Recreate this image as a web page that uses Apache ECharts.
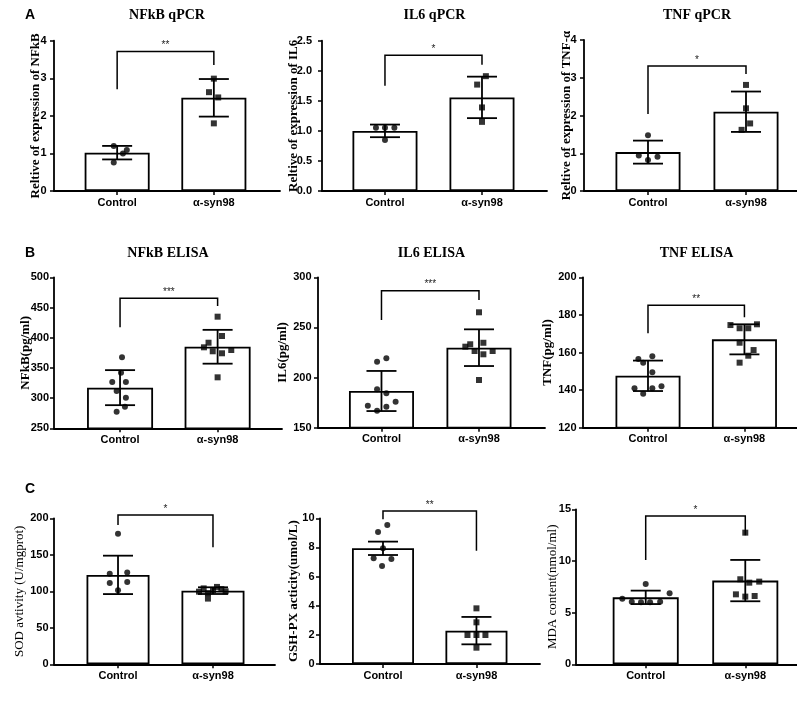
<!DOCTYPE html>
<html><head><meta charset="utf-8">
<script src="https://cdn.jsdelivr.net/npm/echarts@6/dist/echarts.min.js"></script>
<style>html,body{margin:0;padding:0;background:#fff}#c{width:797px;height:707px}</style>
</head><body><div id="c"></div>
<script>
// ---------- DATA ----------
const categories = ['Control', 'α-syn98'];
const panelLetters = ['A', 'B', 'C'];
const panelTitles = ['NFkB qPCR', 'IL6 qPCR', 'TNF qPCR', 'NFkB ELISA', 'IL6 ELISA', 'TNF ELISA', '', '', ''];
const yAxisNames = ['Reltive of expression of NFkB', 'Reltive of expression of IL6', 'Reltive of expression of TNF-α',
  'NFkB(pg/ml)', 'IL6(pg/ml)', 'TNF(pg/ml)', 'SOD avtivity (U/mgprot)', 'GSH-PX acticity(umol/L)', 'MDA content(nmol/ml)'];
const yMin = [0, 0, 0, 250, 150, 120, 0, 0, 0];
const yMax = [4, 2.5, 4, 500, 300, 200, 200, 10, 15];
const yStep = [1, 0.5, 1, 50, 50, 20, 50, 2, 5];
const yDecimals = [0, 1, 0, 0, 0, 0, 0, 0, 0];
const meanControl = [1.02, 1.00, 1.03, 317.3, 186.6, 147.6, 122.5, 7.94, 6.48];
const sdControl = [0.18, 0.105, 0.305, 29, 20, 8.1, 26.3, 0.46, 0.65];
const meanSyn = [2.48, 1.557, 2.10, 385, 229.8, 167, 100.9, 2.29, 8.10];
const sdSyn = [0.50, 0.345, 0.535, 28, 18.3, 8, 4.6, 0.94, 2.0];
const pointsControl = [
  [1.20, 1.00, 1.09, 0.76],
  [1.05, 1.05, 1.05, 0.85],
  [1.48, 0.94, 0.82, 0.91],
  [367.5, 342, 326.7, 326.7, 311.8, 300.7, 285.8, 277.5],
  [215.8, 219.2, 188.3, 184.3, 171.9, 166.9, 170.9, 175.9],
  [156.5, 154.5, 158, 149.5, 141, 138, 141, 142],
  [179, 124.2, 125.6, 111.4, 112.8, 101.4],
  [9.54, 9.06, 7.94, 7.25, 7.21, 6.73],
  [7.77, 6.35, 6.06, 6.0, 6.0, 6.06, 6.87]
];
const jitterControl = [
  [-0.035, 0.06, 0.10, -0.035],
  [-0.093, 0, 0.097, 0],
  [0, -0.094, 0, 0.097],
  [0.02, 0.01, -0.08, 0.06, -0.035, 0.06, 0.05, -0.035],
  [-0.045, 0.05, -0.045, 0.05, -0.14, -0.045, 0.05, 0.145],
  [-0.1, -0.05, 0.045, 0.045, -0.14, -0.05, 0.045, 0.14],
  [0, -0.087, 0.097, -0.087, 0.097, 0],
  [0.046, -0.053, 0, -0.1, 0.09, -0.01],
  [0, -0.235, -0.14, -0.047, 0.044, 0.145, 0.24]
];
const pointsSyn = [
  [2.99, 2.63, 2.49, 1.80],
  [1.91, 1.77, 1.39, 1.15],
  [2.81, 2.19, 1.79, 1.62],
  [434.8, 402.8, 391.7, 384.1, 377.5, 374.2, 379.6, 334.4],
  [265.1, 233.2, 230.8, 234.7, 226.5, 223.2, 226.5, 197.6],
  [174.6, 172.9, 172.9, 175, 165.2, 161.3, 158.3, 154.6],
  [99.5, 104, 97.5, 101.5, 106, 103, 100, 90],
  [3.82, 2.86, 1.99, 1.99, 1.99, 1.12],
  [12.74, 8.23, 7.9, 8.0, 6.77, 6.55, 6.61]
];
const jitterSyn = [
  [0, -0.05, 0.045, 0],
  [0.04, -0.05, 0, 0],
  [0, 0, 0.042, -0.045],
  [0, 0.045, -0.093, -0.14, -0.05, 0.045, 0.14, 0],
  [0, -0.09, -0.14, 0.045, -0.045, 0.045, 0.14, 0],
  [-0.145, -0.05, 0.04, 0.13, -0.05, 0.095, 0.04, -0.05],
  [-0.147, -0.098, -0.053, 0, 0.042, 0.088, 0.133, -0.053],
  [0, 0, -0.096, 0, 0.096, 0],
  [0, -0.05, 0.04, 0.14, -0.094, 0, 0.094]
];
const bracketTop = [3.71, 2.26, 3.31, 465.2, 286.6, 185.1, 204.6, 10.5, 14.35];
const bracketLeftEnd = [2.71, 1.75, 2.04, 417.2, 257.4, 170.2, 190.9, 9.93, 10.1];
const bracketRightEnd = [3.35, 2.10, 3.10, 452.5, 277.3, 178.7, 160.3, 7.78, 12.5];
const stars = ['**', '*', '*', '***', '***', '**', '*', '**', '*'];

// ---------- LAYOUT (pixels, not data) ----------
const layout = [
  {left: 54, top: 40.7, h: 150.3, w: 226, xmin: -0.653, xmax: 1.684, bw: 65, gap: 12, lm: 7.5, nb: true},
  {left: 322, top: 40.7, h: 150.3, w: 225, xmin: -0.649, xmax: 1.67, bw: 65, gap: 22, lm: 10, nb: true},
  {left: 584, top: 40, h: 151, w: 226, xmin: -0.653, xmax: 1.653, bw: 65, gap: 11, lm: 7.5, nb: true},
  {left: 54, top: 277.3, h: 151, w: 228, xmin: -0.677, xmax: 1.66, bw: 66, gap: 21.5, lm: 5, nb: true},
  {left: 318, top: 277.3, h: 150.4, w: 227, xmin: -0.651, xmax: 1.677, bw: 65, gap: 28.5, lm: 6.5, nb: true},
  {left: 583, top: 277.3, h: 150.4, w: 227, xmin: -0.674, xmax: 1.68, bw: 65, gap: 28.5, lm: 6.5, nb: true},
  {left: 54, top: 518.3, h: 146, w: 221, xmin: -0.674, xmax: 1.653, bw: 63, gap: 27.5, lm: 5.5, nb: false},
  {left: 320, top: 518.3, h: 145.7, w: 220, xmin: -0.674, xmax: 1.68, bw: 62, gap: 19.5, lm: 5.5, nb: true},
  {left: 576, top: 509.3, h: 155, w: 236, xmin: -0.70, xmax: 1.67, bw: 66, gap: 16.5, lm: 5, nb: false}
];
const letterY = [15, 253, 489];

const SANS = 'Liberation Sans';
const SERIF = 'Liberation Serif';
const lineSt = {stroke: '#000', lineWidth: 1.8, fill: null};

const grids = [], xAxes = [], yAxes = [], series = [], graphics = [];

layout.forEach((L, i) => {
  grids.push({left: L.left, top: L.top, width: L.w, height: L.h, outerBoundsMode: 'none', containLabel: false});
  xAxes.push({
    type: 'value', gridIndex: i, min: L.xmin, max: L.xmax, interval: 1,
    axisLine: {show: true, onZero: false, lineStyle: {color: '#000', width: 1.8}},
    axisTick: {show: true, customValues: [0, 1], length: 4, lineStyle: {color: '#000', width: 1.5}},
    axisLabel: {customValues: [0, 1], margin: 6,
      formatter: v => categories[Math.round(v)] || '',
      fontFamily: SANS, fontWeight: 'bold', fontSize: 11, color: '#000'},
    splitLine: {show: false}
  });
  yAxes.push({
    type: 'value', gridIndex: i, min: yMin[i], max: yMax[i], interval: yStep[i],
    name: yAxisNames[i], nameLocation: 'middle', nameGap: L.gap, nameMoveOverlap: false,
    nameTextStyle: {fontFamily: SERIF, fontWeight: L.nb ? 'bold' : 'normal', fontSize: 13, color: '#000'},
    axisLine: {show: true, onZero: false, lineStyle: {color: '#000', width: 1.8}},
    axisTick: {show: true, length: 4, lineStyle: {color: '#000', width: 1.5}},
    axisLabel: {margin: L.lm, formatter: v => Number(v).toFixed(yDecimals[i]),
      fontFamily: SANS, fontWeight: 'bold', fontSize: 11, color: '#000'},
    splitLine: {show: false}
  });
  series.push({
    type: 'bar', xAxisIndex: i, yAxisIndex: i, barWidth: L.bw,
    data: [[0, meanControl[i]], [1, meanSyn[i]]],
    itemStyle: {color: '#fff', borderColor: '#000', borderWidth: 1.8},
    silent: true
  });
  series.push({
    type: 'custom', xAxisIndex: i, yAxisIndex: i,
    data: [[0, meanControl[i], sdControl[i]], [1, meanSyn[i], sdSyn[i]]],
    encode: {x: 0, y: 1},
    renderItem: (params, api) => {
      const x = api.value(0), m = api.value(1), s = api.value(2);
      const t = api.coord([x, m + s]), b = api.coord([x, m - s]);
      const hw = 15;
      return {type: 'group', children: [
        {type: 'line', shape: {x1: t[0], y1: t[1], x2: b[0], y2: b[1]}, style: lineSt},
        {type: 'line', shape: {x1: t[0] - hw, y1: t[1], x2: t[0] + hw, y2: t[1]}, style: lineSt},
        {type: 'line', shape: {x1: b[0] - hw, y1: b[1], x2: b[0] + hw, y2: b[1]}, style: lineSt}
      ]};
    },
    z: 3
  });
  series.push({
    type: 'scatter', xAxisIndex: i, yAxisIndex: i, symbol: 'circle', symbolSize: 6,
    data: pointsControl[i].map((v, k) => [0 + jitterControl[i][k], v]),
    itemStyle: {color: '#000'}, z: 4
  });
  series.push({
    type: 'scatter', xAxisIndex: i, yAxisIndex: i, symbol: 'rect', symbolSize: 6,
    data: pointsSyn[i].map((v, k) => [1 + jitterSyn[i][k], v]),
    itemStyle: {color: '#000'}, z: 4
  });
  series.push({
    type: 'custom', xAxisIndex: i, yAxisIndex: i, clip: false,
    data: [[0, bracketTop[i], 1, bracketLeftEnd[i], bracketRightEnd[i]]],
    encode: {x: [0, 2], y: [1, 3, 4]},
    renderItem: (params, api) => {
      const p0 = api.coord([api.value(0), api.value(3)]);
      const p1 = api.coord([api.value(0), api.value(1)]);
      const p2 = api.coord([api.value(2), api.value(1)]);
      const p3 = api.coord([api.value(2), api.value(4)]);
      return {type: 'group', children: [
        {type: 'polyline', shape: {points: [p0, p1, p2, p3]}, style: {stroke: '#000', lineWidth: 1.5, fill: null}},
        {type: 'text', x: (p1[0] + p2[0]) / 2, y: p1[1] - 1,
          style: {text: stars[i], fill: '#222', fontFamily: SANS, fontSize: 10,
            align: 'center', verticalAlign: 'bottom'}}
      ]};
    },
    z: 3
  });
  if (panelTitles[i]) {
    graphics.push({type: 'text', x: L.left + L.w / 2, y: i < 3 ? 15 : 253,
      style: {text: panelTitles[i], fill: '#000', fontFamily: SERIF, fontWeight: 'bold', fontSize: 14,
        align: 'center', verticalAlign: 'middle'}});
  }
});
panelLetters.forEach((t, r) => {
  graphics.push({type: 'text', x: 25, y: letterY[r],
    style: {text: t, fill: '#000', fontFamily: SANS, fontWeight: 'bold', fontSize: 14,
      align: 'left', verticalAlign: 'middle'}});
});

const chart = echarts.init(document.getElementById('c'), null, {renderer: 'canvas'});
chart.setOption({
  animation: false,
  backgroundColor: '#fff',
  grid: grids, xAxis: xAxes, yAxis: yAxes, series: series, graphic: graphics
});
</script></body></html>
